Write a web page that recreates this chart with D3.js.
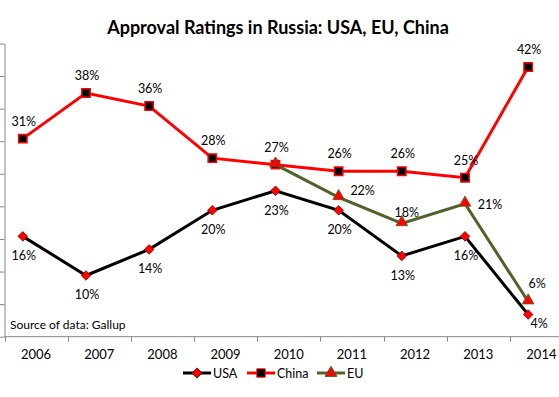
<!DOCTYPE html>
<html>
<head>
<meta charset="utf-8">
<title>Approval Ratings in Russia</title>
<style>
  body { margin: 0; background: #fff; }
  text { font-family: Lato, "Open Sans", sans-serif; }
</style>
</head>
<body>
<main></main>
<script src="https://cdn.jsdelivr.net/npm/d3@7"></script>
<script>
// data
var years = ["2006", "2007", "2008", "2009", "2010", "2011", "2012", "2013", "2014"];
var usa   = [16, 10, 14, 20, 23, 20, 13, 16, 4];
var china = [31, 38, 36, 28, 27, 26, 26, 25, 42];
var euYears = ["2010", "2011", "2012", "2013", "2014"];
var eu      = [27, 22, 18, 21, 6];
var yTicks = [0.6, 5.6, 10.6, 15.6, 20.6, 25.6, 30.6, 35.6, 40.6, 45.6];

var width = 559, height = 397;
var svg = d3.select("main").append("svg")
    .attr("width", width).attr("height", height);

var x = d3.scaleBand().domain(years).range([4.5, 573]);
var y = d3.scaleLinear().domain([0.6, 45.6]).range([336.7, 43.5]);
// Excel puts the markers left of the band centre here
var px = function (yr) { return x(yr) + x.bandwidth() * 0.29; };

var axisColor = "#868686";

// title
svg.append("text")
    .attr("x", 278).attr("y", 34)
    .attr("text-anchor", "middle")
    .style("font-size", "18px").style("font-weight", "bold")
    .text("Approval Ratings in Russia: USA, EU, China");

// y axis (no labels)
var yAxis = svg.append("g")
    .attr("transform", "translate(4.5,0)")
    .call(d3.axisLeft(y).tickValues(yTicks).tickSize(5).tickSizeOuter(0).tickFormat(""));
yAxis.selectAll("line, path").attr("stroke", axisColor);

// x axis
var xAxis = svg.append("g")
    .attr("transform", "translate(0," + y(0.6) + ")");
xAxis.append("line")
    .attr("x1", 4.5).attr("x2", width)
    .attr("stroke", axisColor);
xAxis.selectAll(".tk").data(years).enter().append("line")
    .attr("x1", function (d) { return Math.round(x(d)) + 0.5; })
    .attr("x2", function (d) { return Math.round(x(d)) + 0.5; })
    .attr("y1", 0).attr("y2", 5)
    .attr("stroke", axisColor);
xAxis.selectAll(".lbl").data(years).enter().append("text")
    .attr("x", function (d) { return x(d) + x.bandwidth() / 2; })
    .attr("y", 22)
    .attr("text-anchor", "middle")
    .style("font-size", "13px")
    .text(function (d) { return d; });

// source note
svg.append("text")
    .attr("x", 10).attr("y", 329)
    .style("font-size", "12px")
    .text("Source of data: Gallup");

var line = d3.line()
    .x(function (d) { return px(d.yr); })
    .y(function (d) { return y(d.v); });

function pairs(ys, vs) {
    return ys.map(function (yr, i) { return {yr: yr, v: vs[i]}; });
}

var usaData = pairs(years, usa),
    chinaData = pairs(years, china),
    euData = pairs(euYears, eu);

// lines
svg.append("path").datum(chinaData)
    .attr("d", line).attr("fill", "none")
    .attr("stroke", "#ff0000").attr("stroke-width", 3);
svg.append("path").datum(usaData)
    .attr("d", line).attr("fill", "none")
    .attr("stroke", "#000").attr("stroke-width", 3);
svg.append("path").datum(euData)
    .attr("d", line).attr("fill", "none")
    .attr("stroke", "#4f6228").attr("stroke-width", 3);

// markers
var square = d3.symbol().type(d3.symbolSquare).size(70);
var diamond = d3.symbol().type(d3.symbolSquare).size(46);   // rotated 45deg below
var triangle = d3.symbol().type(d3.symbolTriangle).size(60);

svg.selectAll(".m-china").data(chinaData).enter().append("path")
    .attr("d", square)
    .attr("transform", function (d) { return "translate(" + px(d.yr) + "," + y(d.v) + ")"; })
    .attr("fill", "#000").attr("stroke", "#ff0000").attr("stroke-width", 1.5);
svg.selectAll(".m-usa").data(usaData).enter().append("path")
    .attr("d", diamond)
    .attr("transform", function (d) { return "translate(" + px(d.yr) + "," + y(d.v) + ") rotate(45)"; })
    .attr("fill", "#ff0000").attr("stroke", "#8b0000").attr("stroke-width", 0.8);
svg.selectAll(".m-eu").data(euData).enter().append("path")
    .attr("d", triangle)
    .attr("transform", function (d) { return "translate(" + px(d.yr) + "," + (y(d.v) - 1) + ")"; })
    .attr("fill", "#ff0000").attr("stroke", "#4f6228").attr("stroke-width", 0.8);

// data labels
function labels(data, off) {
    svg.selectAll(null).data(data).enter().append("text")
        .filter(function (d) { return off(d) !== null; })
        .attr("x", function (d) { return px(d.yr) + off(d)[0]; })
        .attr("y", function (d) { return y(d.v) + off(d)[1]; })
        .attr("text-anchor", "middle")
        .attr("dominant-baseline", "central")
        .style("font-size", "12.5px")
        .text(function (d) { return d.v + "%"; });
}
labels(chinaData, function () { return [1, -17.5]; });
labels(usaData, function (d) { return d.yr === "2014" ? [11, 9] : [1, 19.5]; });
var euOff = {"2011": [24, -7], "2012": [5, -11], "2013": [25, 1], "2014": [9, -18]};
labels(euData, function (d) { return euOff[d.yr] || null; });

// legend
var lg = svg.append("g").attr("transform", "translate(0,373)");
var items = [
    {name: "USA", x0: 183, line: "#000", sym: diamond, rot: 45, fill: "#ff0000", stroke: "#8b0000"},
    {name: "China", x0: 247, line: "#ff0000", sym: square, rot: 0, fill: "#000", stroke: "#ff0000"},
    {name: "EU", x0: 317, line: "#4f6228", sym: triangle, rot: 0, fill: "#ff0000", stroke: "#4f6228"}
];
items.forEach(function (it) {
    lg.append("line")
        .attr("x1", it.x0).attr("x2", it.x0 + 28)
        .attr("stroke", it.line).attr("stroke-width", 3);
    lg.append("path")
        .attr("d", it.sym)
        .attr("transform", "translate(" + (it.x0 + 14) + ",0) rotate(" + it.rot + ")")
        .attr("fill", it.fill).attr("stroke", it.stroke).attr("stroke-width", 1);
    lg.append("text")
        .attr("x", it.x0 + 30).attr("y", 0)
        .attr("dominant-baseline", "central")
        .style("font-size", "12.5px")
        .text(it.name);
});
</script>
</body>
</html>
